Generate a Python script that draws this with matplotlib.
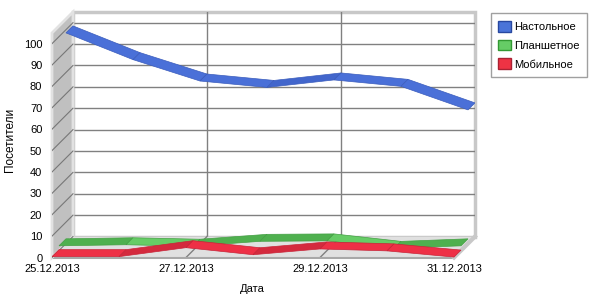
import matplotlib
matplotlib.use("Agg")
import matplotlib.pyplot as plt
from matplotlib.patches import Polygon, Rectangle, Patch

dates = ["25.12.2013", "26.12.2013", "27.12.2013", "28.12.2013",
         "29.12.2013", "30.12.2013", "31.12.2013"]
desktop = [98.5, 86, 76, 73, 76.5, 73.5, 62.5]
tablet = [2.2, 2.7, 2.0, 4.3, 4.5, 1.0, 2.2]
mobile = [0.4, 0.4, 4.6, 1.3, 4.0, 3.1, 0.2]
series_names = ["Настольное", "Планшетное", "Мобильное"]
yticks = list(range(0, 101, 10))
xtick_idx = [0, 2, 4, 6]

plt.rcParams['font.family'] = ['Liberation Sans', 'DejaVu Sans']
plt.rcParams['font.size'] = 8

# псевдо-3D: смещение задней стенки в единицах данных
DX = 0.313
DY = 9.8
YMAX = 105
n = len(dates)
last = n - 1
grid_col = '#808080'

fig = plt.figure(figsize=(6, 3), dpi=100)
ax = fig.add_axes([52 / 600, 1 - 257.5 / 300, 423 / 600, 245.5 / 300])
ax.set_xlim(0, last + DX)
ax.set_ylim(0, YMAX + DY)
for s in ax.spines.values():
    s.set_visible(False)

# задняя стенка
ax.add_patch(Rectangle((DX, DY), last, YMAX, facecolor='white', edgecolor='#c8c8c8',
                       lw=2.5, zorder=1, clip_on=False))
for v in yticks:
    ax.plot([DX, last + DX], [v + DY, v + DY], color=grid_col, lw=1, zorder=2)
for i in xtick_idx[1:-1]:
    ax.plot([i + DX, i + DX], [DY, YMAX + DY], color=grid_col, lw=1, zorder=2)

# пол
ax.add_patch(Polygon([(0, 0), (last, 0), (last + DX, DY), (DX, DY)], closed=True,
                     facecolor='#e0e0e0', edgecolor='none', zorder=2, clip_on=False))
for i in xtick_idx[1:-1]:
    ax.plot([i, i + DX], [0, DY], color=grid_col, lw=1, zorder=3)
ax.plot([0, last], [0, 0], color='#a8a8a8', lw=1.5, zorder=3, clip_on=False)
ax.plot([last, last + DX], [0, DY], color='#c8c8c8', lw=3, zorder=3, clip_on=False)

# левая стенка
ax.add_patch(Polygon([(0, 0), (DX, DY), (DX, YMAX + DY), (0, YMAX)], closed=True,
                     facecolor='#c0c0c0', edgecolor='#e2e2e2', lw=2, zorder=3, clip_on=False))
for v in yticks:
    ax.plot([0, DX], [v, v + DY], color='#777777', lw=0.8, zorder=4)


def ribbon(values, slot, light, dark, edge):
    d0 = slot / 3
    d1 = (slot + 1) / 3
    for i in range(n - 1):
        y0, y1 = values[i], values[i + 1]
        pts = [(i + d0 * DX, y0 + d0 * DY), (i + 1 + d0 * DX, y1 + d0 * DY),
               (i + 1 + d1 * DX, y1 + d1 * DY), (i + d1 * DX, y0 + d1 * DY)]
        face = dark if y1 > y0 else light
        ax.add_patch(Polygon(pts, closed=True, facecolor=face, edgecolor=edge,
                             lw=0.5, zorder=10 - slot))


ribbon(desktop, 2, '#4a70d8', '#4266cc', '#3a5cbc')
ribbon(tablet, 1, '#66cc66', '#4fb04f', '#44a044')
ribbon(mobile, 0, '#ee3046', '#d42a3e', '#c82438')

ax.set_yticks(yticks)
ax.set_xticks(xtick_idx, [dates[i] for i in xtick_idx])
ax.tick_params(axis='y', length=0, pad=7)
ax.tick_params(axis='x', length=0, pad=4.5)

fig.text(252 / 600, 1 - 289 / 300, "Дата", ha='center', va='center')
fig.text(10 / 600, 1 - 140 / 300, "Посетители", ha='center', va='center', rotation=90,
         fontsize=8.5)

handles = [Patch(facecolor='#4a74d8', edgecolor='#2848a0', label=series_names[0]),
           Patch(facecolor='#66cc66', edgecolor='#339933', label=series_names[1]),
           Patch(facecolor='#ee3344', edgecolor='#aa2233', label=series_names[2])]
leg = fig.legend(handles=handles, loc='upper left', bbox_to_anchor=(490.7 / 600, 1 - 13.3 / 300),
                 frameon=True, fancybox=False, edgecolor='#a0a0a0', framealpha=1,
                 handlelength=1.1, handleheight=1.1, labelspacing=0.68, handletextpad=0.3,
                 borderpad=0.7, borderaxespad=0)
leg.get_frame().set_linewidth(1)

fig.savefig('out.png', dpi=100)
